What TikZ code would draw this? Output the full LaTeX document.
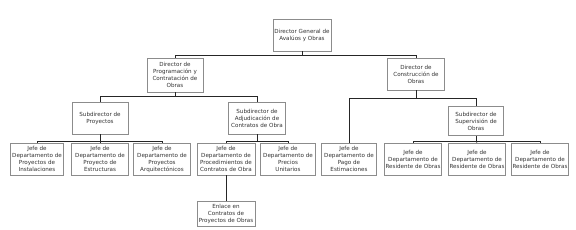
\documentclass[tikz,border=0pt]{standalone}
\usepackage{fontspec}
\setmainfont{DejaVu Sans}
\usepackage{tikz}
\usetikzlibrary{positioning, calc}
\definecolor{boxline}{HTML}{8C8C8C}
\definecolor{txt}{HTML}{333333}

\tikzset{
  unit/.style={draw=boxline, fill=white, line width=0.6pt, inner sep=1pt,
    align=center, text=txt, font=\fontsize{5.6}{7}\selectfont,
    minimum width=57pt, minimum height=32pt},
  link/.style={draw=black!85, line width=0.6pt}
}

\begin{document}
\begin{tikzpicture}[x=1pt, y=-1pt]
  \useasboundingbox (0,0) rectangle (576,230);

  % Direccion general
  \node[unit, minimum width=58pt] (dg) at (302,35) {Director General de\\Avalúos y Obras};

  % Direcciones de area
  \node[unit, minimum width=56pt, minimum height=34pt] (dpc) at (175,75)
    {Director de\\Programación y\\Contratación de\\Obras};
  \node[unit] (dco) at (416,74) {Director de\\Construcción de\\Obras};

  % Subdirecciones
  \node[unit, minimum width=56pt] (sp) at (100,118) {Subdirector de\\Proyectos};
  \node[unit] (sac) at (257,118) {Subdirector de\\Adjudicación de\\Contratos de Obra};
  \node[unit, minimum width=55pt, minimum height=29pt] (sso) at (476,121)
    {Subdirector de\\Supervisión de\\Obras};

  % Jefaturas de departamento
  \node[unit, minimum width=53pt] (jpi) at (37,159) {Jefe de\\Departamento de\\Proyectos de\\Instalaciones};
  \node[unit] (jpe) at (100,159) {Jefe de\\Departamento de\\Proyecto de\\Estructuras};
  \node[unit] (jpa) at (162,159) {Jefe de\\Departamento de\\Proyectos\\Arquitectónicos};
  \node[unit, minimum width=58pt] (jpc) at (226,159) {Jefe de\\Departamento de\\Procedimientos de\\Contratos de Obra};
  \node[unit, minimum width=55pt] (jpu) at (288,159) {Jefe de\\Departamento de\\Precios\\Unitarios};
  \node[unit, minimum width=55pt] (jpg) at (349,159) {Jefe de\\Departamento de\\Pago de\\Estimaciones};
  \foreach \n/\x in {1/413, 2/477, 3/540} {
    \node[unit] (jro\n) at (\x,159) {Jefe de\\Departamento de\\Residente de Obras};
  }

  % Enlace
  \node[unit, minimum width=58pt, minimum height=25pt] (enl) at (226,214)
    {Enlace en\\Contratos de\\Proyectos de Obras};

  % Barras horizontales
  \coordinate (b0) at (0,55);
  \coordinate (b1) at (0,96);
  \coordinate (b2) at (0,98);
  \coordinate (b3) at (0,141);

  % Conectores
  \draw[link] (dg.south) -- (dg.south |- b0) -| (dpc.north);
  \draw[link] (dg.south |- b0) -| (dco.north);

  \draw[link] (dpc.south) -- (dpc.south |- b1) -| (sp.north);
  \draw[link] (dpc.south |- b1) -| (sac.north);

  \draw[link] (dco.south) -- (dco.south |- b2) -| (jpg.north);
  \draw[link] (dco.south |- b2) -| (sso.north);

  \draw[link] (sp.south) -- (sp.south |- b3) -| (jpi.north);
  \draw[link] (sp.south |- b3) -| (jpa.north);
  \draw[link] (sp.south |- b3) -- (jpe.north);

  \draw[link] (sac.south) -- (sac.south |- b3) -| (jpc.north);
  \draw[link] (sac.south |- b3) -| (jpu.north);

  \draw[link] (sso.south) -- (sso.south |- b3) -| (jro1.north);
  \draw[link] (sso.south |- b3) -| (jro3.north);
  \draw[link] (sso.south |- b3) -- (jro2.north);

  \draw[link] (jpc.south) -- (enl.north);
\end{tikzpicture}
\end{document}
